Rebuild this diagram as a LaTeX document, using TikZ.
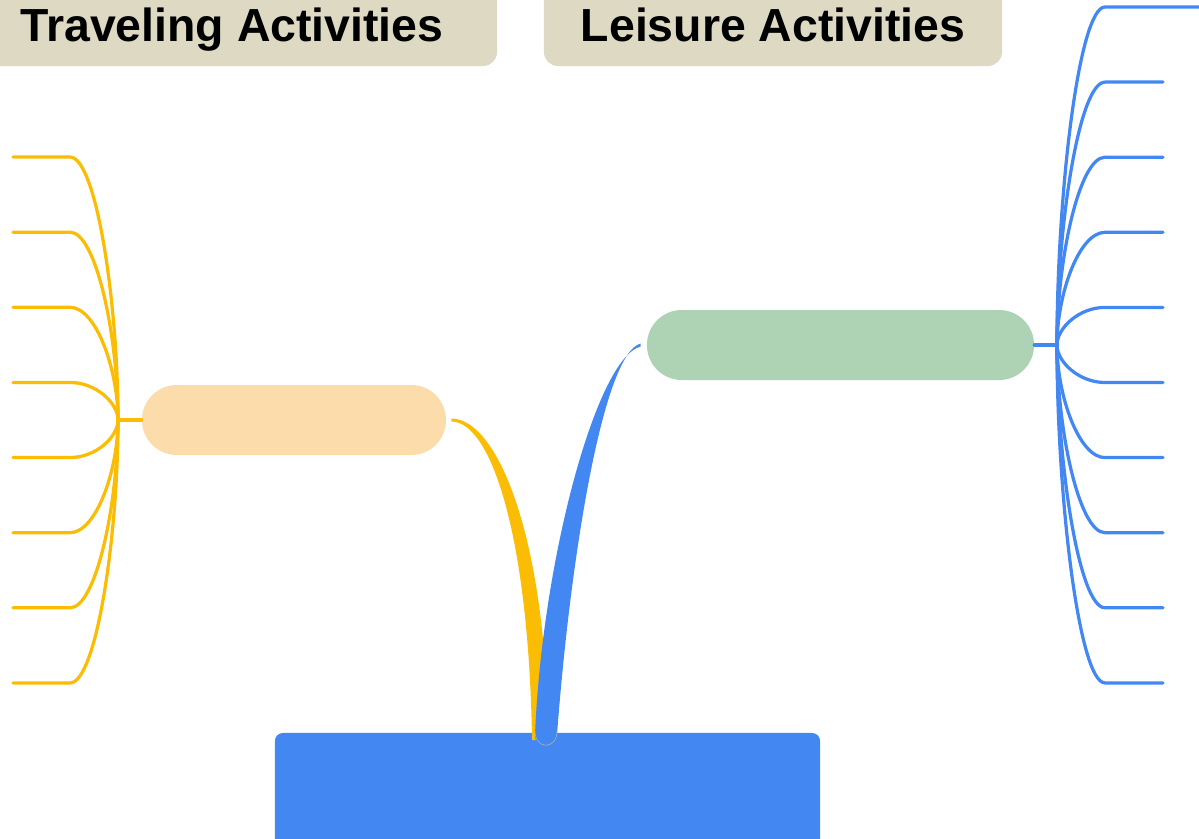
\documentclass[tikz,border=0pt]{standalone}
\usepackage{fontspec}
\setmainfont{Liberation Sans}
\usetikzlibrary{calc,positioning}
\definecolor{headbg}{HTML}{DDD9C3}
\definecolor{travfill}{HTML}{FDDCAB}
\definecolor{leisfill}{HTML}{AED2B4}
\definecolor{gold}{HTML}{FBBC04}
\definecolor{gblue}{HTML}{4287F2}

\begin{document}
\begin{tikzpicture}[x=0.025cm,y=-0.025cm]
  \tikzset{head/.style={fill=headbg,rounded corners=0.35cm,inner sep=0pt,anchor=base,
                        text height=1.775cm,text depth=0.625cm,
                        font=\fontsize{33}{40}\selectfont\bfseries},
           pill/.style={rounded corners=0.87cm,minimum height=1.75cm,inner sep=0pt},
           twig/.style={line width=2.3pt,line cap=round}}
  \useasboundingbox (0,0) rectangle (1199,838);

  \node[head,minimum width=13.25cm]	(travhead) at (232,41)	{Traveling Activities};
  \node[head,minimum width=11.45cm]	(leishead) at (773,41)	{Leisure Activities};

  \node[pill,fill=travfill,minimum width=7.6cm]		(travpill) at (294,420)	{};
  \node[pill,fill=leisfill,minimum width=9.675cm]	(leispill) at (840.5,345)	{};
  \node[fill=gblue,rounded corners=0.2cm,minimum width=13.625cm,minimum height=3.25cm] (root) at (547.5,798) {};

  \coordinate (lhub) at (118,420);
  \coordinate (rhub) at (1057,345);

  % left leaves
  \foreach \i in {0,...,7}{
    \pgfmathsetmacro{\y}{157+75.14*\i}
    \pgfmathsetmacro{\c}{420+0.45*(\y-420)}
    \coordinate (tl\i) at (13,\y);
    \draw[twig,gold] (lhub) .. controls (118,\c) and (96,\y) .. (70,\y) -- (tl\i);
  }
  \draw[twig,gold] (travpill.west) -- (lhub);

  % right leaves
  \foreach \i in {0,...,9}{
    \pgfmathsetmacro{\y}{7+75.1*\i}
    \pgfmathsetmacro{\c}{345+0.45*(\y-345)}
    \ifnum\i=0 \coordinate (tr\i) at (1205,\y); \else \coordinate (tr\i) at (1163,\y); \fi
    \draw[twig,gblue] (rhub) .. controls (1057,\c) and (1079,\y) .. (1105,\y) -- (tr\i);
  }
  \draw[twig,gblue] (leispill.east) -- (rhub);

  % main branches
  \fill[gold] ([shift={(5,-1.5)}]travpill.east) .. controls (498,418.5) and (547,540) .. (548,740)
        -- (532,740) .. controls (529,540) and (492,421.5) .. ([shift={(5,1.5)}]travpill.east) -- cycle;
  \fill[gblue] ([shift={(-6,-1.5)}]leispill.west) .. controls (603,353) and (570,560) .. (557,735)
        .. controls (557,750) and (535,750) .. (535,735)
        .. controls (542,560) and (597,357) .. ([shift={(-6,1.5)}]leispill.west) -- cycle;
  \draw[gray!60,line width=0.4pt] (557,731) .. controls (557,750) and (535,750) .. (535,731);
\end{tikzpicture}
\end{document}
